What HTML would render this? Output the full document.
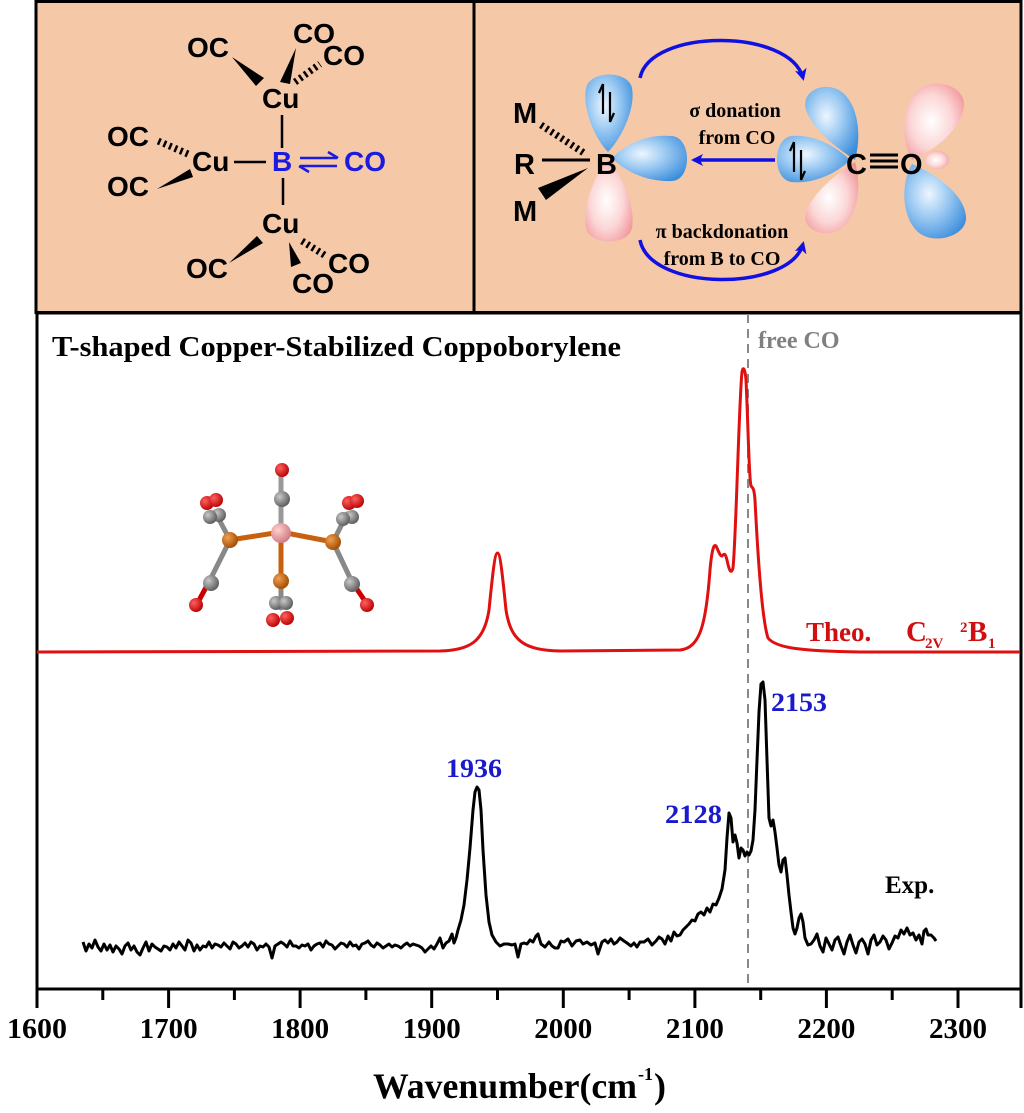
<!DOCTYPE html>
<html><head><meta charset="utf-8"><style>html,body{margin:0;padding:0;background:#fff}svg{display:block}</style></head>
<body>
<svg width="1024" height="1113" viewBox="0 0 1024 1113" xmlns="http://www.w3.org/2000/svg">
<defs>
<radialGradient id="bl" cx="0.4" cy="0.4" r="0.7"><stop offset="0" stop-color="#eef6ff"/><stop offset="0.45" stop-color="#9ccaf2"/><stop offset="1" stop-color="#3b8ddc"/></radialGradient>
<radialGradient id="pk" cx="0.45" cy="0.5" r="0.7"><stop offset="0" stop-color="#ffffff"/><stop offset="0.5" stop-color="#fcd6d6"/><stop offset="1" stop-color="#ef878c"/></radialGradient>
<radialGradient id="ox" cx="0.35" cy="0.35" r="0.7"><stop offset="0" stop-color="#ff6060"/><stop offset="1" stop-color="#b80000"/></radialGradient>
<radialGradient id="cg" cx="0.35" cy="0.35" r="0.7"><stop offset="0" stop-color="#c8c8c8"/><stop offset="1" stop-color="#5a5a5a"/></radialGradient>
<radialGradient id="cu" cx="0.35" cy="0.35" r="0.7"><stop offset="0" stop-color="#f0a050"/><stop offset="1" stop-color="#a04a00"/></radialGradient>
<radialGradient id="bo" cx="0.35" cy="0.35" r="0.7"><stop offset="0" stop-color="#ffd0d0"/><stop offset="1" stop-color="#d07880"/></radialGradient>
<marker id="ah" markerWidth="12" markerHeight="12" refX="9" refY="6" orient="auto" markerUnits="userSpaceOnUse"><path d="M0,0 L12,6 L0,12 L3,6Z" fill="#1010e0"/></marker>
</defs>
<rect width="1024" height="1113" fill="#fff"/>
<rect x="36" y="1.5" width="438" height="311" fill="#f5c8a8" stroke="#000" stroke-width="3"/>
<rect x="474" y="1.5" width="547" height="311" fill="#f5c8a8" stroke="#000" stroke-width="3"/>

<!-- left panel -->
<g font-family="Liberation Sans, sans-serif" font-weight="bold" font-size="28" fill="#000">
<text x="187" y="57">OC</text>
<text x="293" y="43">CO</text>
<text x="323" y="65">CO</text>
<text x="262" y="108">Cu</text>
<text x="107" y="146">OC</text>
<text x="192" y="171">Cu</text>
<text x="107" y="196">OC</text>
<text x="262" y="233">Cu</text>
<text x="186" y="278">OC</text>
<text x="328" y="273">CO</text>
<text x="292" y="293">CO</text>
<text x="272" y="171" fill="#1a1ae0">B</text>
<text x="344" y="171" fill="#1a1ae0">CO</text>
</g>
<g stroke="#000" stroke-width="2.5">
<line x1="282" y1="115" x2="282" y2="148"/>
<line x1="283" y1="178" x2="283" y2="205"/>
<line x1="234" y1="162" x2="266" y2="162"/>
</g>
<g fill="#000">
<polygon points="232,57 264,78 256,86"/>
<polygon points="296,48 290,84 280,82"/>
<polygon points="157,189 190,169 193,177"/>
<polygon points="229,263 257,236 263,243"/>
<polygon points="289,242 291,267 301,263"/>
</g>
<g stroke="#000" fill="none" stroke-dasharray="2.5,3.5">
<line x1="295" y1="82" x2="320" y2="64" stroke-width="7"/>
<line x1="188" y1="154" x2="158" y2="141" stroke-width="7"/>
<line x1="302" y1="241" x2="326" y2="256" stroke-width="7"/>
</g>
<g stroke="#1a1ae0" stroke-width="2.5" fill="none">
<line x1="300" y1="158" x2="337" y2="158"/><path d="M328,152 L338,158"/>
<line x1="300" y1="166" x2="337" y2="166"/><path d="M309,172 L299,166"/>
</g>

<!-- right panel orbitals -->
<g stroke="none">
<path d="M608,152 C596,140 582,110 586,88 C590,70 628,70 632,88 C636,110 620,140 608,152Z" fill="url(#bl)"/>
<path d="M608,160 C596,172 582,205 586,228 C590,246 628,246 632,228 C636,205 620,172 608,160Z" fill="url(#pk)"/>
<path d="M612,158 C628,142 650,134 672,136 C692,138 692,180 672,181 C650,182 628,174 612,158Z" fill="url(#bl)"/>
<path d="M855,162 C862,186 858,215 842,228 C826,240 800,230 806,212 C814,190 840,172 855,162Z" fill="url(#pk)"/>
<path d="M855,160 C862,135 858,105 842,92 C826,80 800,90 806,110 C814,132 840,150 855,160Z" fill="url(#bl)"/>
<path d="M850,160 C834,176 810,184 792,182 C772,180 772,138 792,136 C810,134 834,144 850,160Z" fill="url(#bl)"/>
<path d="M912,160 C900,140 902,105 918,90 C934,76 966,86 964,106 C962,128 936,150 912,160Z" fill="url(#pk)"/>
<path d="M912,164 C900,184 902,218 918,232 C934,246 968,236 966,216 C964,194 936,174 912,164Z" fill="url(#bl)"/>
<ellipse cx="937" cy="160" rx="12" ry="9" fill="url(#pk)"/>
</g>
<g font-family="Liberation Sans, sans-serif" font-weight="bold" font-size="29" fill="#000">
<text x="513" y="123">M</text>
<text x="514" y="174">R</text>
<text x="513" y="221">M</text>
<text x="596" y="174">B</text>
<text x="846" y="174">C</text>
<text x="900" y="174">O</text>
</g>
<g stroke="#000" stroke-width="3">
<line x1="542" y1="160" x2="590" y2="160"/>
<line x1="870" y1="155" x2="898" y2="155"/><line x1="870" y1="161" x2="898" y2="161"/><line x1="870" y1="167" x2="898" y2="167"/>
</g>
<line x1="541" y1="125" x2="584" y2="153" stroke="#000" stroke-width="7" stroke-dasharray="2.5,3.5"/>
<polygon points="538,188 546,200 588,168" fill="#000"/>
<g stroke="#000" stroke-width="2.2" fill="none">
<path d="M603,84 L603,114 M603,84 L599,93"/><path d="M610,92 L610,122 M610,122 L614,113"/>
<path d="M794,142 L794,172 M794,142 L790,151"/><path d="M801,150 L801,180 M801,180 L805,171"/>
</g>
<g stroke="#1010e0" stroke-width="3.5" fill="none">
<path d="M640,78 C650,28 790,28 803,78" marker-end="url(#ah)"/>
<path d="M640,240 C650,292 790,292 803,244" marker-end="url(#ah)"/>
<line x1="775" y1="160" x2="694" y2="160" marker-end="url(#ah)"/>
</g>
<g font-family="Liberation Serif, serif" font-weight="bold" font-size="20" fill="#000" text-anchor="middle">
<text x="735" y="117">σ donation</text>
<text x="737" y="144">from CO</text>
<text x="722" y="238">π backdonation</text>
<text x="722" y="265">from B to CO</text>
</g>

<!-- plot box -->
<rect x="37" y="313" width="984" height="676" fill="#fff" stroke="#000" stroke-width="3"/>
<line x1="748" y1="314" x2="748" y2="988" stroke="#888" stroke-width="2" stroke-dasharray="9,6"/>
<text x="52" y="356" font-family="Liberation Serif, serif" font-weight="bold" font-size="29" textLength="569" lengthAdjust="spacingAndGlyphs">T-shaped Copper-Stabilized Coppoborylene</text>
<text x="758" y="348" font-family="Liberation Serif, serif" font-weight="bold" font-size="24" fill="#808080">free CO</text>

<path d="M37,652 L440,651 C470,650 484,642 489,610 C493,570 495,553 497.5,553 C500,553 502,570 506,610 C511,642 525,650 560,651 L680,650 C700,648 706,625 710,570 C712,548 714,544 716,546 C719,552 720,556 722,556 C724,554 725,552 727,560 C729,570 731,575 733,568 C736,540 739,400 742,372 C743,366 745,368 746,380 C748,420 749,480 751,486 C753,488 754,488 755,500 C758,560 762,620 768,638 C776,648 800,651 860,652 L1020,652" fill="none" stroke="#e01010" stroke-width="3"/>
<g font-family="Liberation Serif, serif" font-weight="bold" fill="#d01010">
<text x="806" y="641" font-size="27">Theo.</text>
<text x="906" y="641" font-size="29">C</text>
<text x="925" y="648" font-size="15">2V</text>
<text x="960" y="632" font-size="15">2</text>
<text x="968" y="641" font-size="29">B</text>
<text x="988" y="648" font-size="15">1</text>
</g>

<polyline fill="none" stroke="#000" stroke-width="3" stroke-linejoin="round" points="83,942 86,951 89,944 92,948 95,940 98,947 101,951 104,944 107,950 110,945 113,952 116,946 119,949 122,954 125,946 128,943 131,950 134,946 137,952 140,955 143,948 146,942 149,951 152,944 155,947 158,949 161,951 164,946 167,947 170,950 173,944 176,948 179,942 182,946 185,950 188,940 191,943 194,951 197,945 200,950 203,946 206,947 209,942 212,948 215,944 218,945 221,947 224,943 227,946 230,949 233,942 236,944 239,948 242,946 245,943 248,947 251,942 254,944 257,950 260,946 263,947 266,944 269,947 272,958 275,946 278,944 281,942 284,944 287,947 290,941 293,946 296,946 299,948 302,945 305,946 308,944 311,950 314,946 317,944 320,943 323,947 326,941 329,944 332,945 335,949 338,946 341,943 344,944 347,947 350,942 353,946 356,945 359,949 362,944 365,943 368,941 371,945 374,947 377,943 380,945 383,948 386,946 389,944 392,947 395,945 398,946 401,948 404,945 407,943 410,946 413,944 416,945 419,946 422,948 425,952 428,949 431,946 434,949 437,944 440,938 443,948 446,943 449,941 452,934 454,943 456,938 458,930 461,920 464,905 467,880 470,848 473,810 475,792 477,787 479,790 481,810 483,850 486,895 489,922 492,935 496,942 500,946 504,944 508,944 512,945 515,944 518,957 521,944 524,943 527,944 530,940 533,942 536,936 538,934 541,944 545,947 549,942 552,946 555,948 558,948 561,941 564,942 568,939 572,946 576,941 580,940 583,944 587,942 591,945 595,943 598,954 602,942 605,940 608,943 611,939 614,944 617,942 620,938 624,941 627,943 631,946 634,943 637,947 640,942 644,942 648,939 652,945 656,941 659,937 662,939 665,944 668,936 671,941 674,932 677,936 680,935 683,930 686,927 689,924 692,920 695,921 698,914 701,912 704,915 707,908 710,912 713,904 716,905 719,898 722,889 725,870 727,838 729,813 731,818 733,842 735,835 737,843 739,858 741,848 743,850 745,856 747,852 749,855 751,851 753,840 755,810 757,760 759,712 761,684 763,682 765,700 767,760 769,818 771,826 773,820 775,832 777,848 779,865 781,872 783,860 785,858 787,875 789,895 791,912 793,928 795,934 797,928 799,918 801,914 803,922 805,938 808,945 811,944 814,940 817,934 820,946 823,952 826,938 829,944 832,950 835,940 838,937 841,946 844,954 847,942 850,935 853,945 856,953 859,942 862,939 865,944 868,954 871,940 874,935 877,945 880,942 883,936 886,940 889,949 892,943 895,936 898,938 901,930 904,934 907,928 910,935 913,933 916,940 919,935 922,944 924,931 926,929 928,935 931,935 934,938 936,941"/>
<g font-family="Liberation Serif, serif" font-weight="bold" font-size="26" fill="#1a1acc">
<text x="446" y="777" textLength="56" lengthAdjust="spacingAndGlyphs">1936</text>
<text x="665" y="823" textLength="57" lengthAdjust="spacingAndGlyphs">2128</text>
<text x="771" y="711" textLength="56" lengthAdjust="spacingAndGlyphs">2153</text>
</g>
<text x="885" y="893" font-family="Liberation Serif, serif" font-weight="bold" font-size="25" fill="#000">Exp.</text>

<g stroke="#000" stroke-width="3">
<line x1="37" y1="989" x2="37" y2="1008"/><line x1="168.6" y1="989" x2="168.6" y2="1008"/><line x1="300.1" y1="989" x2="300.1" y2="1008"/><line x1="431.7" y1="989" x2="431.7" y2="1008"/><line x1="563.3" y1="989" x2="563.3" y2="1008"/><line x1="694.9" y1="989" x2="694.9" y2="1008"/><line x1="826.4" y1="989" x2="826.4" y2="1008"/><line x1="958" y1="989" x2="958" y2="1008"/>
<line x1="102.8" y1="989" x2="102.8" y2="1000"/><line x1="234.4" y1="989" x2="234.4" y2="1000"/><line x1="365.9" y1="989" x2="365.9" y2="1000"/><line x1="497.5" y1="989" x2="497.5" y2="1000"/><line x1="629.1" y1="989" x2="629.1" y2="1000"/><line x1="760.7" y1="989" x2="760.7" y2="1000"/><line x1="892.2" y1="989" x2="892.2" y2="1000"/><line x1="1021" y1="989" x2="1021" y2="1008"/>
</g>
<g font-family="Liberation Serif, serif" font-weight="bold" font-size="29" text-anchor="middle" fill="#000">
<text x="37" y="1038" textLength="60" lengthAdjust="spacingAndGlyphs">1600</text>
<text x="168.6" y="1038" textLength="58" lengthAdjust="spacingAndGlyphs">1700</text>
<text x="300.1" y="1038" textLength="58" lengthAdjust="spacingAndGlyphs">1800</text>
<text x="431.7" y="1038" textLength="58" lengthAdjust="spacingAndGlyphs">1900</text>
<text x="563.3" y="1038" textLength="58" lengthAdjust="spacingAndGlyphs">2000</text>
<text x="694.9" y="1038" textLength="58" lengthAdjust="spacingAndGlyphs">2100</text>
<text x="826.4" y="1038" textLength="58" lengthAdjust="spacingAndGlyphs">2200</text>
<text x="958" y="1038" textLength="58" lengthAdjust="spacingAndGlyphs">2300</text>
</g>
<text x="373" y="1098" font-family="Liberation Serif, serif" font-weight="bold" font-size="36" textLength="264" lengthAdjust="spacingAndGlyphs">Wavenumber(cm</text>
<text x="638" y="1080" font-family="Liberation Serif, serif" font-weight="bold" font-size="18">-1</text>
<text x="654" y="1098" font-family="Liberation Serif, serif" font-weight="bold" font-size="36">)</text>

<g stroke-linecap="round">
<g stroke-width="5">
<line x1="281" y1="470" x2="281" y2="532" stroke="#999"/>
<line x1="230" y1="540" x2="281" y2="532" stroke="#c86010"/>
<line x1="281" y1="532" x2="333" y2="542" stroke="#c86010"/>
<line x1="281" y1="532" x2="281" y2="582" stroke="#c86010"/>
<line x1="230" y1="540" x2="215" y2="512" stroke="#888"/>
<line x1="230" y1="540" x2="210" y2="580" stroke="#888"/>
<line x1="333" y1="542" x2="347" y2="514" stroke="#888"/>
<line x1="333" y1="542" x2="352" y2="582" stroke="#888"/>
<line x1="281" y1="582" x2="281" y2="608" stroke="#888"/>
<line x1="210" y1="580" x2="197" y2="604" stroke="#c00"/>
<line x1="352" y1="582" x2="367" y2="604" stroke="#c00"/>
</g>
<circle cx="207" cy="503" r="7" fill="url(#ox)"/><circle cx="216" cy="500" r="7" fill="url(#ox)"/>
<circle cx="219" cy="515" r="7" fill="url(#cg)"/><circle cx="210" cy="517" r="7" fill="url(#cg)"/>
<circle cx="349" cy="503" r="7" fill="url(#ox)"/><circle cx="357" cy="501" r="7" fill="url(#ox)"/>
<circle cx="352" cy="517" r="7" fill="url(#cg)"/><circle cx="343" cy="519" r="7" fill="url(#cg)"/>
<circle cx="282" cy="470" r="7" fill="url(#ox)"/>
<circle cx="282" cy="499" r="8" fill="url(#cg)"/>
<circle cx="281" cy="533" r="10" fill="url(#bo)"/>
<circle cx="230" cy="540" r="8" fill="url(#cu)"/>
<circle cx="333" cy="542" r="8" fill="url(#cu)"/>
<circle cx="281" cy="581" r="8" fill="url(#cu)"/>
<circle cx="211" cy="583" r="8" fill="url(#cg)"/>
<circle cx="352" cy="584" r="8" fill="url(#cg)"/>
<circle cx="196" cy="605" r="7" fill="url(#ox)"/>
<circle cx="367" cy="605" r="7" fill="url(#ox)"/>
<circle cx="276" cy="603" r="7" fill="url(#cg)"/><circle cx="286" cy="603" r="7" fill="url(#cg)"/>
<circle cx="273" cy="620" r="7" fill="url(#ox)"/><circle cx="287" cy="618" r="7" fill="url(#ox)"/>
</g>
</svg>
</body></html>
